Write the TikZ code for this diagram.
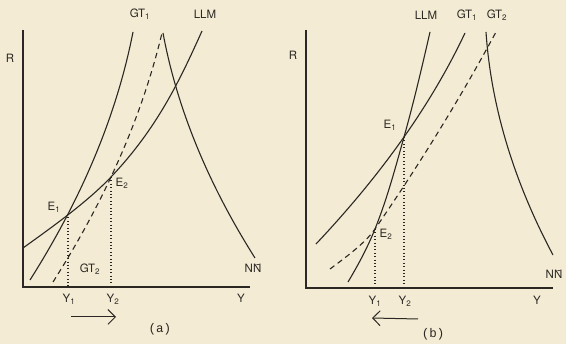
\documentclass[tikz,border=0pt]{standalone}
\usepackage{fontspec}
\setmainfont{TeX Gyre Heros}
\newfontfamily\capfont{Liberation Mono}
\usepackage{tikz}
\usetikzlibrary{arrows.meta}
\definecolor{paper}{HTML}{F3EBD4}
\definecolor{ink}{HTML}{2B2823}
\tikzset{
  ax/.style   = {draw=ink, line width=1.3pt},
  crv/.style  = {draw=ink, line width=1.1pt},
  shft/.style = {crv, dash pattern=on 5.5pt off 4pt},
  drop/.style = {draw=ink, line width=1.3pt, dash pattern=on 1pt off 2.4pt},
  lbl/.style  = {text=ink, font=\fontsize{11.5}{13}\selectfont, inner sep=1pt},
  capt/.style = {text=ink, font=\capfont\fontsize{12.5}{14}\selectfont, inner sep=1pt},
  ar/.style   = {draw=ink, line width=1pt, -{Straight Barb[length=2.6mm]}},
}

\begin{document}
\begin{tikzpicture}[x=1pt, y=-1pt]
\fill[paper] (0,0) rectangle (566,344);
\useasboundingbox (0,0) rectangle (566,344);

% --- panel (a) ---
\coordinate (aO) at (23,287);
\coordinate (E1a) at (68,214);
\coordinate (E2a) at (111,177);
\draw[ax] (23,30) -- (aO) -- (250,287);
\draw[crv] (30,280) .. controls (82.4,197.3) and (116.8,114.7) .. (133,32);
\draw[shft] (53,282) .. controls (105.8,199) and (142.1,116) .. (162,33);
\draw[crv] (23,248) .. controls (56.1,224.3) and (88.5,200.7) .. (E2a)
           .. controls (157.3,128.3) and (180.1,79.7) .. (202,31);
\draw[crv] (163,33) .. controls (177,108) and (207.6,183) .. (255,258);
\draw[drop] (E1a) -- (E1a |- aO);
\draw[drop] (E2a) -- (E2a |- aO);

\node[lbl] (Ra) at (10,58) {R};
\node[lbl] (Ya) at (241,298) {Y};
\node[lbl] (GT1a) at (140,14) {GT\textsubscript{1}};
\node[lbl] (LLMa) at (205,14) {LLM};
\node[lbl] (GT2a) at (90,269) {GT\textsubscript{2}};
\node[lbl] (NNa) at (253,268) {N\={N}};
\node[lbl] (E1al) at (54,207) {E\textsubscript{1}};
\node[lbl] (E2al) at (122,183) {E\textsubscript{2}};
\node[lbl] (Y1a) at (69,299) {Y\textsubscript{1}};
\node[lbl] (Y2a) at (113,299) {Y\textsubscript{2}};
\coordinate (arA1) at (71,317);
\coordinate (arA2) at (116,317);
\draw[ar] (arA1) -- (arA2);
\node[capt] (capa) at (160,329) {(a)};

% --- panel (b) ---
\coordinate (bO) at (306,288);
\coordinate (E1b) at (404,137);
\coordinate (E2b) at (375,229);
\draw[ax] (306,30) -- (bO) -- (553,288);
\draw[crv] (348,282) .. controls (358.6,264.3) and (367.9,246.7) .. (E2b)
           .. controls (387.3,198.3) and (395.4,167.7) .. (E1b)
           .. controls (413.8,102) and (422,67) .. (430,32);
\draw[crv] (316,244) .. controls (382.3,173.7) and (431.9,103.3) .. (465,33);
\draw[shft] (330,269) .. controls (348,255.7) and (365.8,242.3) .. (E2b)
            .. controls (420.2,163.3) and (460.5,97.7) .. (496,32);
\draw[crv] (486,32) .. controls (491.1,106.3) and (513.5,180.7) .. (553,255);
\draw[drop] (E1b) -- (E1b |- bO);
\draw[drop] (E2b) -- (E2b |- bO);

\node[lbl] (Rb) at (293,55) {R};
\node[lbl] (Yb) at (537,300) {Y};
\node[lbl] (LLMb) at (426,15) {LLM};
\node[lbl] (GT1b) at (467,15) {GT\textsubscript{1}};
\node[lbl] (GT2b) at (497,15) {GT\textsubscript{2}};
\node[lbl] (NNb) at (554,274) {N\={N}};
\node[lbl] (E1bl) at (390,125) {E\textsubscript{1}};
\node[lbl] (E2bl) at (386,234) {E\textsubscript{2}};
\node[lbl] (Y1b) at (375,301) {Y\textsubscript{1}};
\node[lbl] (Y2b) at (405,301) {Y\textsubscript{2}};
\coordinate (arB1) at (418,319);
\coordinate (arB2) at (372,318);
\draw[ar] (arB1) -- (arB2);
\node[capt] (capb) at (433,334) {(b)};
\end{tikzpicture}
\end{document}
